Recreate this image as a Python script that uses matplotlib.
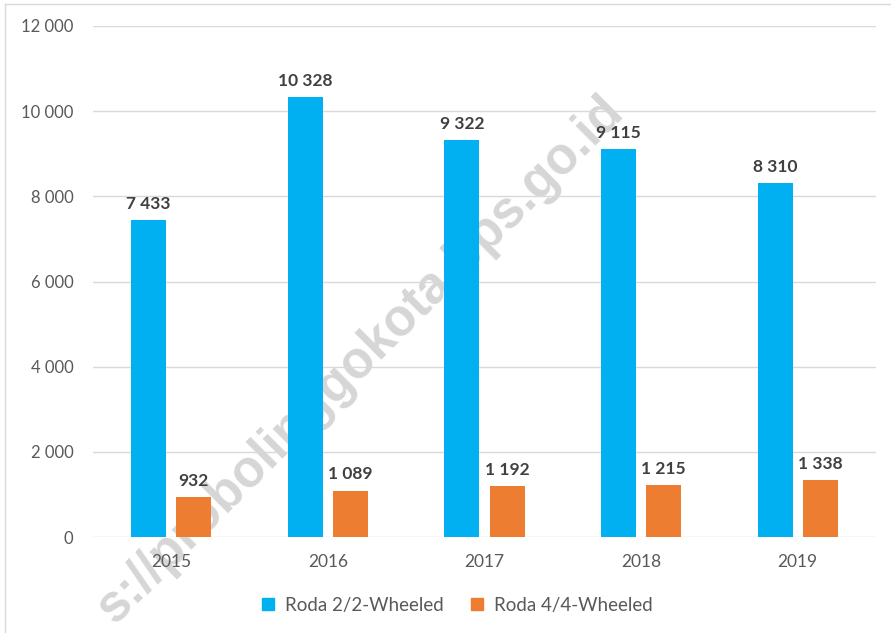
import matplotlib.pyplot as plt
import numpy as np
from matplotlib.lines import Line2D

years = ['2015', '2016', '2017', '2018', '2019']
roda2 = [7433, 10328, 9322, 9115, 8310]
roda4 = [932, 1089, 1192, 1215, 1338]
series_names = ['Roda 2/2-Wheeled', 'Roda 4/4-Wheeled']
yticks = [0, 2000, 4000, 6000, 8000, 10000, 12000]
watermark = 's://probolinggokota.bps.go.id'

BLUE = '#00B0F0'
ORANGE = '#ED7D31'
GRAY = '#595959'

plt.rcParams['font.family'] = ['Lato', 'DejaVu Sans']


def fmt(v):
    # thousands separated by a space
    return f"{v:,}".replace(",", " ")


W, H = 891, 633
fig = plt.figure(figsize=(W / 100, H / 100), dpi=100)
fig.patch.set_facecolor('white')

ax = fig.add_axes([93 / W, 1 - 537 / H, (876 - 93) / W, (537 - 26) / H])
ax.patch.set_alpha(0)

x = np.arange(len(years))
bw = 0.224
off = 0.144
b1 = ax.bar(x - off, roda2, bw, color=BLUE, zorder=3)
b2 = ax.bar(x + off, roda4, bw, color=ORANGE, zorder=3)

for bars, vals in ((b1, roda2), (b2, roda4)):
    for rect, v in zip(bars, vals):
        ax.annotate(fmt(v), (rect.get_x() + rect.get_width() / 2, v),
                    xytext=(0, 6), textcoords='offset points',
                    ha='center', va='bottom', fontsize=12.5,
                    fontweight='bold', color='#404040', zorder=4)

ax.set_xlim(-0.5, len(years) - 0.5)
ax.set_ylim(0, 12000)
ax.set_yticks(yticks)
ax.set_yticklabels([fmt(t) for t in yticks])
ax.set_xticks(x)
ax.set_xticklabels(years)
ax.tick_params(axis='y', length=0, pad=14, labelsize=12, labelcolor=GRAY)
ax.tick_params(axis='x', length=0, pad=12, labelsize=12.5, labelcolor=GRAY)
ax.grid(axis='y', color='#d9d9d9', linewidth=1, zorder=1)
for s in ax.spines.values():
    s.set_visible(False)

handles = [Line2D([], [], marker='s', linestyle='', markersize=8, color=c)
           for c in (BLUE, ORANGE)]
fig.legend(handles, series_names, loc='center', ncol=2,
           bbox_to_anchor=(451 / W, 1 - 605 / H), frameon=False,
           fontsize=13.5, labelcolor=GRAY, handletextpad=-0.1,
           columnspacing=0.8)

# watermark behind the bars
fig.text(360 / W, 1 - 360 / H, watermark,
         rotation=45, rotation_mode='anchor', ha='center', va='center',
         fontsize=37, fontweight='bold', color='#d6d6d6',
         family=['Liberation Sans', 'DejaVu Sans'], zorder=-1)

# frame of the screenshot
fig.add_artist(Line2D([5 / W, 5 / W], [0, 1 - 4 / H], color='#d9d9d9', lw=1))
fig.add_artist(Line2D([5 / W, 1], [1 - 4 / H, 1 - 4 / H], color='#d9d9d9', lw=1))

fig.savefig('out.png', dpi=100)
